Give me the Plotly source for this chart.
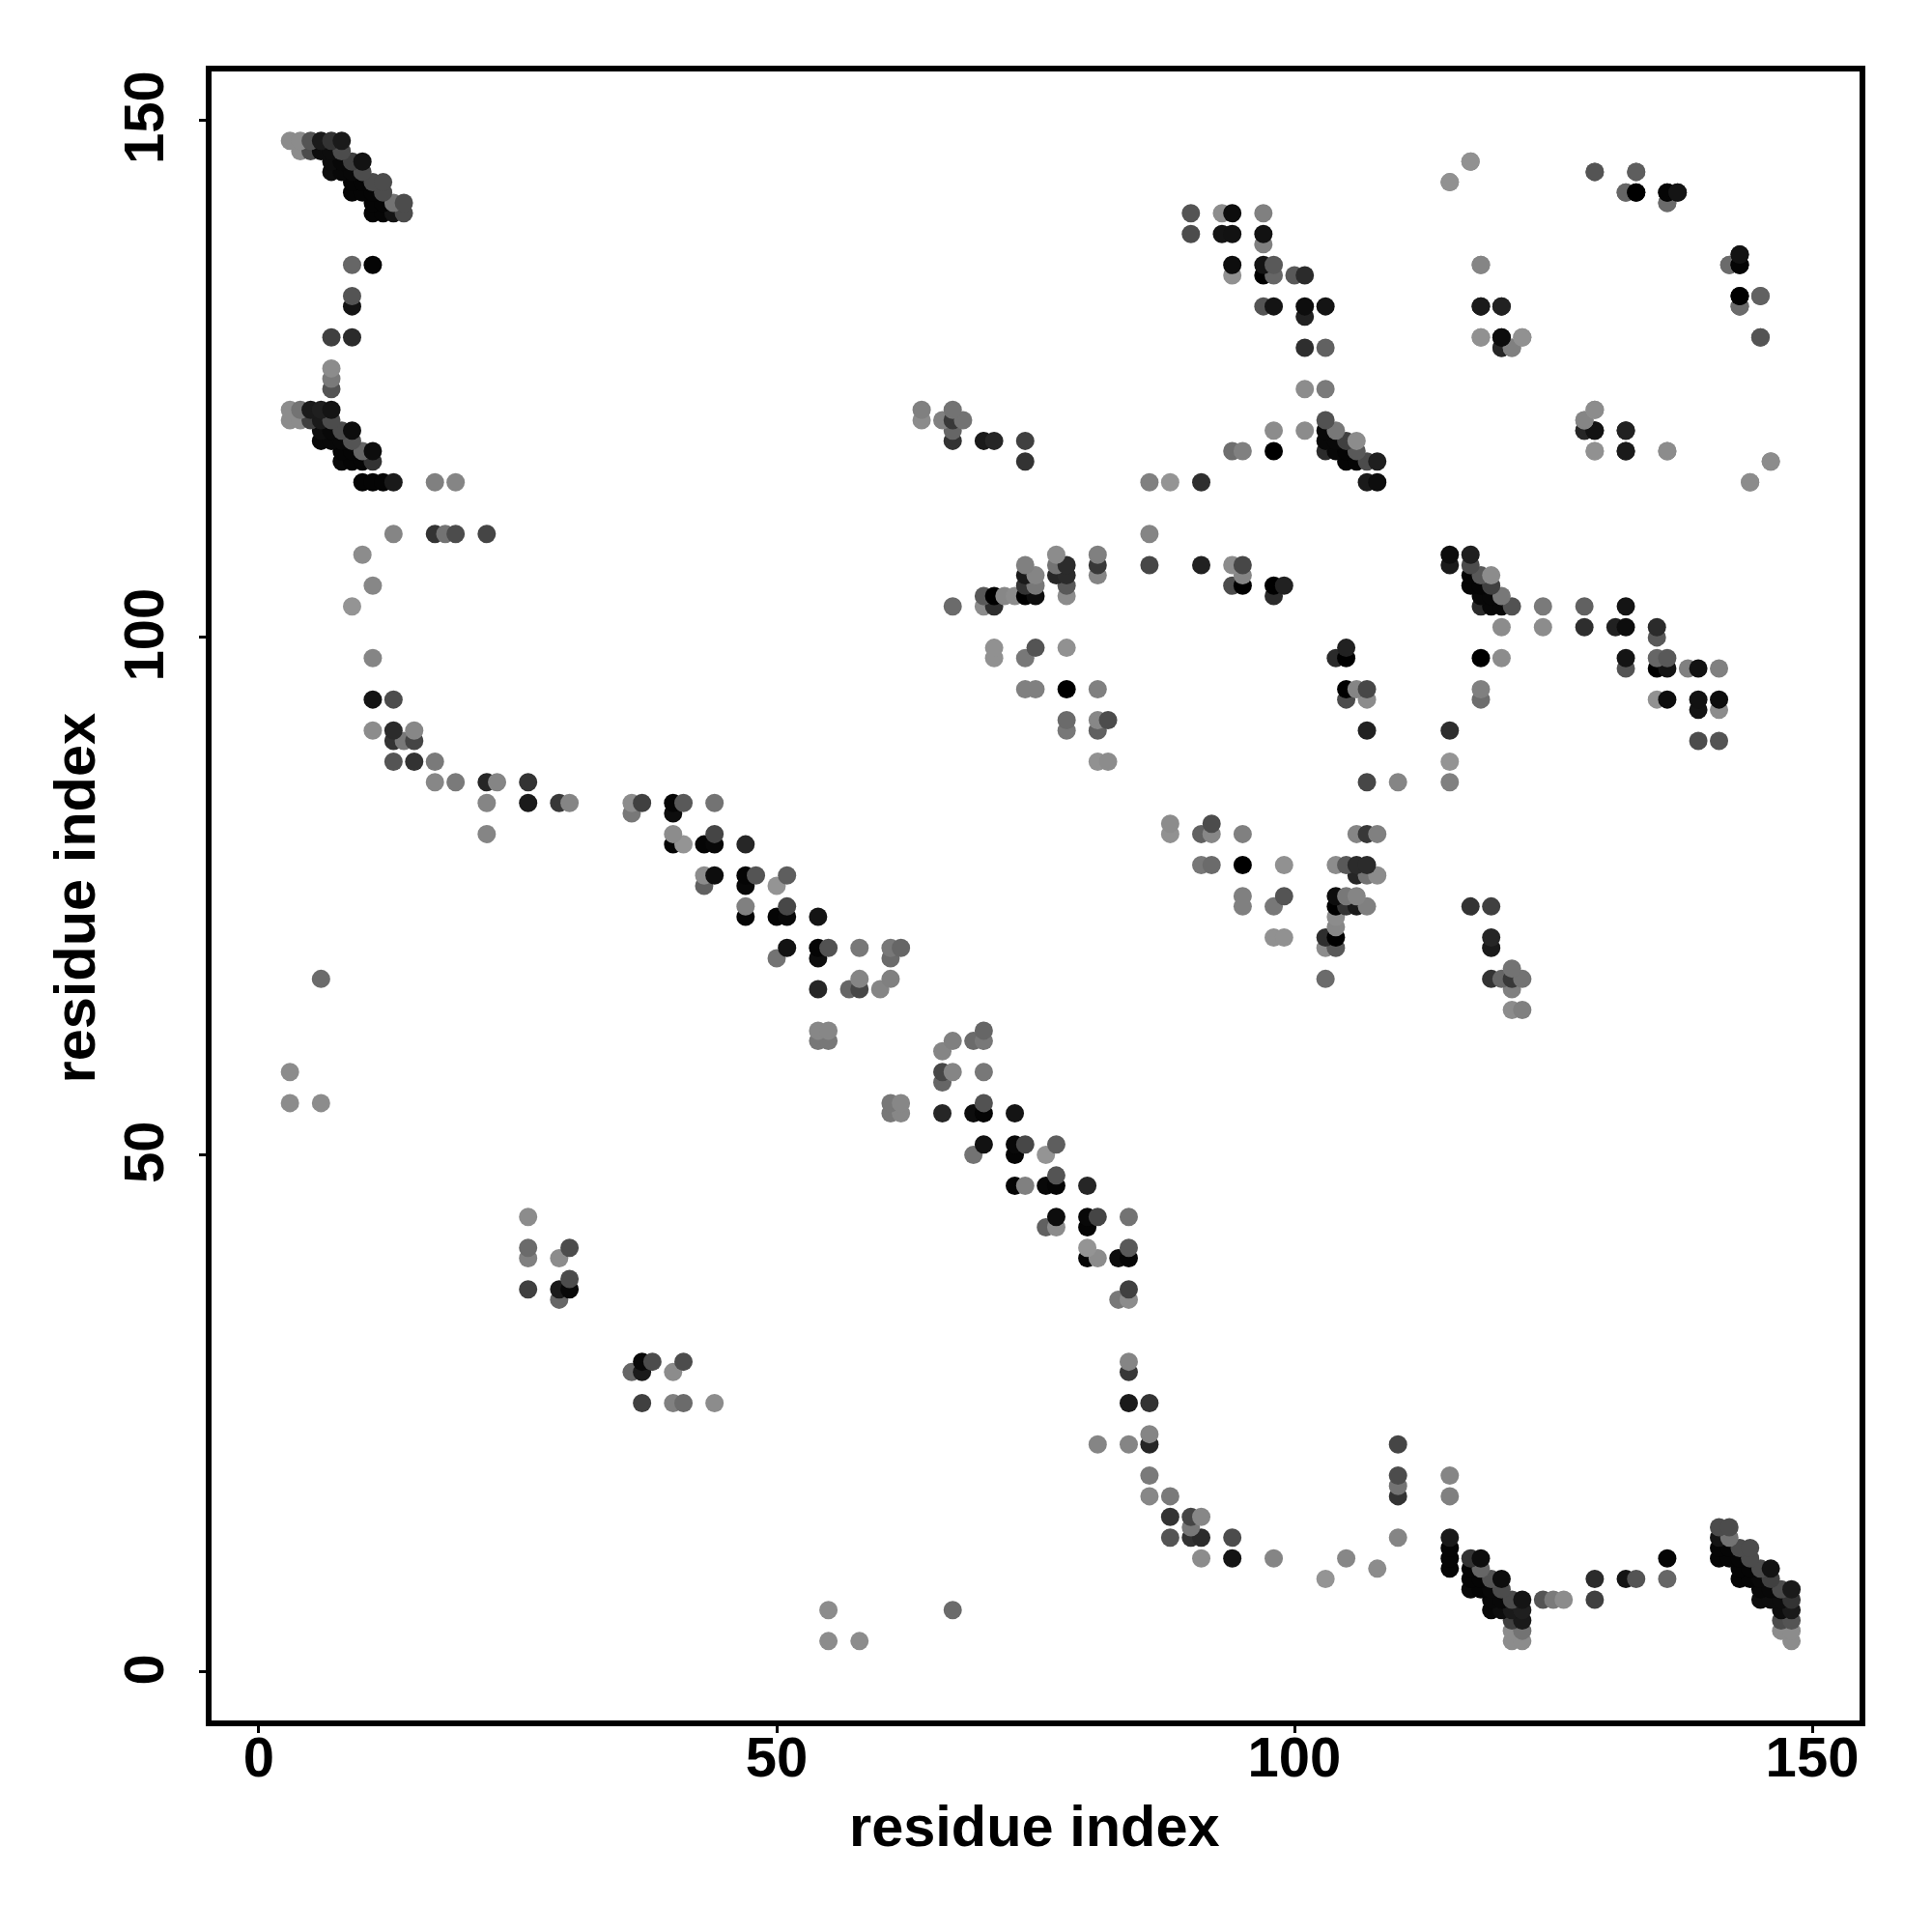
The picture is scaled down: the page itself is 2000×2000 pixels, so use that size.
import plotly.graph_objects as go

# Contacts of the upper triangle (the map is symmetric); one source line per residue_b row.
residue_a = [
 3,4,5,6,7,8,
 4,5,6,7,8,
 7,8,9,10,117,
 7,8,9,10,129,133,
 9,10,11,12,115,
 9,10,11,12,132,133,136,137,
 11,12,13,14,136,
 11,12,13,14,90,93,94,97,
 90,93,94,97,
 97,
 143,
 9,11,94,97,98,118,142,143,
 94,97,98,100,101,
 9,143,145,
 9,97,98,101,103,118,120,143,
 101,
 7,9,118,120,122,145,
 101,103,120,121,
 7,
 7,
 7,101,103,
 3,4,5,6,7,64,67,129,
 3,4,5,6,7,64,66,67,68,103,128,
 6,7,8,9,67,98,101,103,104,128,129,132,
 6,7,8,9,67,70,71,74,103,104,105,106,
 8,9,10,11,94,95,98,103,104,105,106,129,132,136,
 8,9,10,11,74,105,106,107,108,146,
 10,11,12,13,17,19,86,88,91,107,108,144,
 13,17,18,19,22,86,
 10,77,81,
 74,77,78,81,86,91,94,95,
 74,75,77,78,81,95,
 11,74,75,78,94,95,98,99,
 70,71,72,73,74,75,78,98,
 9,67,70,71,
 71,75,78,
 11,71,74,
 74,75,78,81,
 11,13,
 78,81,82,
 11,13,15,78,81,
 13,14,15,
 13,15,17,81,82,
 17,19,22,23,26,
 22,26,29,30,36,37,40,41,44,
 36,40,
 22,40,44,
 40,41,43,44,47,
 43,44,47,48,51,
 43,47,50,
 47,51,
 47,50,51,54,
 51,54,55,58,61,62,
 50,54,61,
 6,58,61,
 54,57,58,60,
 54,55,
 54,55,
 3,
 3,6,
 26,
 26,30,
 26,29,
 30,
 26,29,30,
 29,
]
residue_b = (
 [148]*6 + [147]*5 + [146]*5 + [145]*6 + [144]*5 + [143]*8 + [142]*5 + [141]*8 +
 [139]*4 + [138]*1 + [137]*1 + [136]*8 + [135]*5 + [133]*3 + [132]*8 + [131]*1 +
 [129]*6 + [128]*4 + [126]*1 + [125]*1 + [124]*3 + [122]*8 + [121]*11 + [120]*12 +
 [119]*12 + [118]*14 + [117]*10 + [115]*12 + [110]*6 + [108]*3 + [107]*8 + [106]*6 +
 [105]*8 + [104]*8 + [103]*4 + [99]*3 + [98]*3 + [95]*4 + [94]*2 + [92]*3 + [91]*5 +
 [90]*3 + [88]*5 + [86]*5 + [84]*9 + [83]*2 + [81]*3 + [80]*5 + [77]*5 + [76]*3 +
 [74]*2 + [73]*4 + [70]*6 + [69]*3 + [67]*3 + [66]*4 + [62]*2 + [61]*2 + [58]*1 +
 [55]*2 + [44]*1 + [41]*2 + [40]*2 + [38]*1 + [37]*3 + [36]*1
)
gray_level = [
 .55,.55,.33,.1,.2,.1,
 .55,.3,.05,.05,.3,
 .05,.03,.25,.07,.55,
 .05,.03,.03,.3,.33,.38,
 .02,.02,.3,.3,.55,
 .02,.02,.02,.3,.42,0,.02,.07,
 .02,.02,.45,.3,.42,
 .02,.02,.08,.3,.33,.55,.05,.5,
 .3,.08,.07,.07,
 .5,
 .08,
 .4,.02,.05,.08,.35,.55,.42,.02,
 .57,0,.4,.35,.17,
 .33,0,.37,
 .08,.33,.08,.05,.08,.1,.13,.4,
 .13,
 .25,.17,.57,.07,.55,.33,
 .18,.38,.15,.52,
 .55,
 .48,
 .33,.55,.48,
 .55,.45,.1,.12,.08,.5,.45,.57,
 .55,.55,.25,.1,.3,.55,.5,.22,.45,.32,.5,
 .05,.03,.3,.05,.4,.55,.55,.03,.47,.15,.05,.13,
 .03,.03,.03,.33,.2,.1,.15,.25,.03,.03,.25,.55,
 .02,.02,.4,.05,.43,.5,0,.17,.03,.02,.35,.57,.1,.52,
 .03,.02,.02,.2,.2,.02,.02,.3,.12,.57,
 .02,.02,.02,.1,.5,.52,.5,.58,.18,.1,.05,.57,
 .52,.2,.45,.3,.27,.52,
 .55,.55,.5,
 .5,.45,.17,.22,.28,.13,.55,.28,
 .1,.52,.15,.17,.52,.52,
 .53,.2,.47,.35,.3,0,0,.13,
 .35,0,.53,.55,0,.05,.55,.17,
 .58,.42,.55,.18,
 .57,.33,.57,
 .52,.57,.47,
 .5,.5,0,.5,
 .08,.3,
 .42,.53,.3,
 .55,.17,.53,.47,.38,
 .2,.47,.27,
 .33,.2,.48,.57,.55,
 .53,.48,.15,.52,.2,
 .52,.1,.22,.52,.55,.25,.02,.35,.45,
 .47,.05,
 .52,.55,.27,
 .02,.58,.02,.03,.15,
 .55,.05,.02,.33,.37,
 .38,.03,.58,
 .5,.28,
 .02,.02,.03,.08,
 .07,.02,.32,.47,.47,.4,
 .45,.05,.42,
 .42,.52,.5,
 .15,.4,.28,.52,
 .53,.53,
 .47,.47,
 .55,
 .55,.55,
 .55,
 .42,.3,
 .5,.55,
 .3,
 .25,.1,.03,
 .4,
]
tick_values = [0, 50, 100, 150]
axis_label = "residue index"

assert len(residue_a) == len(residue_b) == len(gray_level), (len(residue_a), len(residue_b), len(gray_level))

# Mirror across the diagonal, then paint low rows first and left to right within a row.
points = [(a, b, g) for a, b, g in zip(residue_a, residue_b, gray_level)]
points += [(b, a, g) for a, b, g in zip(residue_a, residue_b, gray_level)]
points.sort(key=lambda p: (p[1], p[0]))
px = [p[0] for p in points]
py = [p[1] for p in points]
colors = [f"rgb({round(p[2]*255)},{round(p[2]*255)},{round(p[2]*255)})" for p in points]

fig = go.Figure(go.Scatter(x=px, y=py, mode="markers",
                           marker=dict(size=19, color=colors, line=dict(width=0)),
                           showlegend=False, cliponaxis=True))

FONT = dict(family="Liberation Sans, Arial, sans-serif", size=58, color="black", weight="bold")
TITLE_FONT = dict(FONT, size=59.5)
common = dict(tickmode="array", tickvals=tick_values, ticktext=[str(v) for v in tick_values],
              showgrid=False, zeroline=False, showline=True, mirror=True, linecolor="black",
              linewidth=6, ticks="outside", ticklen=7, tickwidth=3, tickcolor="black", tickfont=FONT)

fig.update_layout(
    width=2000, height=2000, autosize=False, paper_bgcolor="white", plot_bgcolor="white",
    margin=dict(l=211, r=83, t=66, b=227),
    xaxis=dict(range=[-4.57, 154.57], ticklabelstandoff=-25, **common),
    yaxis=dict(range=[-4.67, 154.7], tickangle=-90, ticklabelstandoff=14, ticklabelshift=6, **common),
    annotations=[
        dict(text=axis_label, xref="paper", yref="paper", x=0.5, y=0, xanchor="center", yanchor="middle",
             yshift=-109, xshift=-1, showarrow=False, font=TITLE_FONT),
        dict(text=axis_label, xref="paper", yref="paper", x=0, y=0.5, xanchor="center", yanchor="middle",
             xshift=-142, yshift=-2, textangle=-90, showarrow=False, font=TITLE_FONT),
    ],
)
fig.write_html("out.html")
